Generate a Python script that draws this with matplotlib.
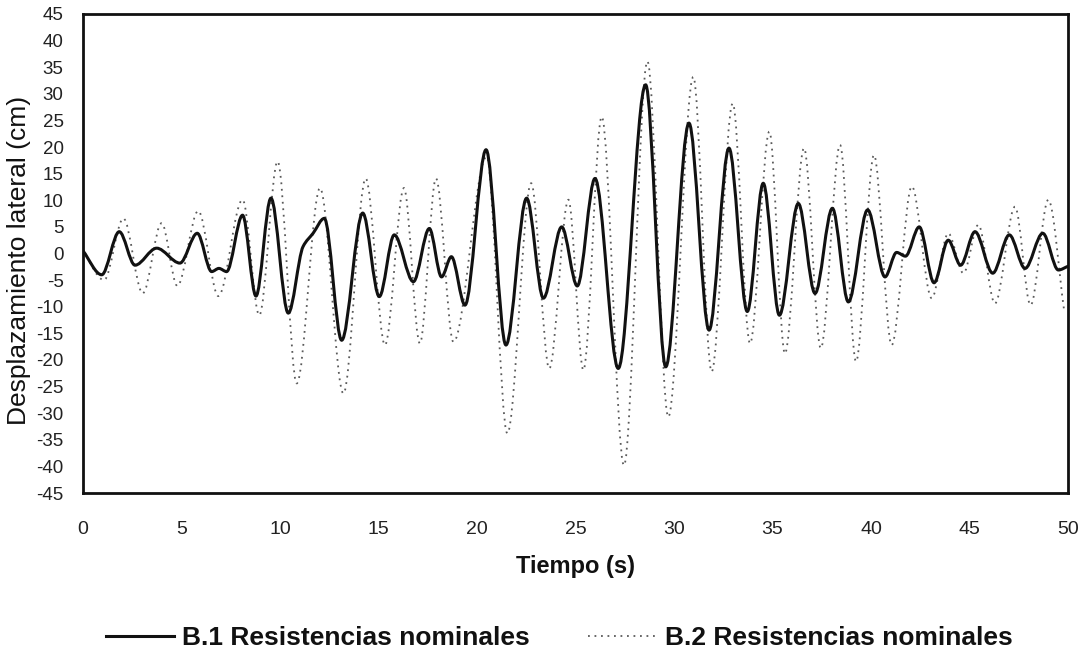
import numpy as np
import matplotlib
matplotlib.use("Agg")
import matplotlib.pyplot as plt
from matplotlib.path import Path
from matplotlib.patches import PathPatch
from matplotlib.lines import Line2D

plt.rcParams['font.family'] = ['Liberation Sans', 'DejaVu Sans']

# ---- data (turning points of each record) ----
b1_t = [0.0, 0.95, 1.84, 2.64, 3.74, 4.92, 5.8, 6.53, 6.9, 7.29, 8.1, 8.78, 9.54,
        10.42, 11.17, 11.68, 12.25, 13.13, 14.2, 15.04, 15.8, 16.77, 17.58, 18.2,
        18.7, 19.39, 20.46, 21.47, 22.52, 23.37, 24.3, 25.09, 25.99, 27.17, 28.56,
        29.58, 30.76, 31.78, 32.79, 33.72, 34.53, 35.35, 36.31, 37.16, 38.04, 38.85,
        39.83, 40.71, 41.3, 41.75, 42.45, 43.2, 43.92, 44.55, 45.28, 46.18, 47.02,
        47.82, 48.72, 49.51, 50.0]
b1_v = [0.5, -4.0, 4.1, -2.2, 1.0, -1.8, 3.8, -3.4, -2.8, -3.4, 7.2, -8.0, 10.4,
        -11.2, 1.3, 3.8, 6.6, -16.3, 7.6, -8.1, 3.5, -5.3, 4.7, -4.4,
        -0.6, -9.7, 19.5, -17.2, 10.4, -8.4, 5.0, -6.1, 14.1, -21.6, 31.7,
        -21.3, 24.5, -14.4, 19.8, -10.9, 13.2, -11.6, 9.4, -7.5, 8.5, -9.1,
        8.2, -4.4, 0.2, -0.5, 5.0, -5.5, 2.5, -2.2, 4.1, -3.7, 3.5,
        -2.8, 3.8, -3.1, -2.4]

b2_t = [0.0, 1.07, 2.05, 3.03, 3.99, 4.79, 5.85, 6.87, 8.1, 8.95, 9.88, 10.85,
        12.03, 13.22, 14.35, 15.33, 16.29, 17.1, 17.92, 18.8, 20.49, 21.54, 22.75,
        23.67, 24.64, 25.4, 26.33, 27.46, 28.65, 29.71, 30.98, 31.91, 32.98, 33.86,
        34.84, 35.63, 36.6, 37.45, 38.43, 39.24, 40.15, 41.05, 42.07, 43.08, 43.92,
        44.69, 45.45, 46.29, 47.31, 48.1, 49.0, 49.8]
b2_v = [0.5, -5.0, 6.6, -7.5, 5.7, -6.1, 8.0, -8.0, 10.1, -11.6, 17.3, -24.4,
        12.3, -26.3, 14.1, -17.2, 12.3, -16.9, 14.1, -16.6, 18.2, -33.8, 13.2,
        -21.6, 10.1, -21.9, 25.7, -39.8, 36.1, -30.7, 33.2, -22.2, 28.2, -16.9,
        22.9, -18.8, 19.8, -17.8, 20.4, -20.3, 18.5, -17.2, 12.6, -8.4, 3.8,
        -3.7, 5.4, -9.4, 8.8, -9.7, 10.1, -10.6]

x_ticks = [0, 5, 10, 15, 20, 25, 30, 35, 40, 45, 50]
y_ticks = [-45, -40, -35, -30, -25, -20, -15, -10, -5, 0, 5, 10, 15, 20, 25, 30, 35, 40, 45]

labels = ["B.1 Resistencias nominales", "B.2 Resistencias nominales"]


def smooth_path(t, v):
    """Monotone cubic (PCHIP) Bezier path through the read points."""
    t = np.asarray(t, float)
    v = np.asarray(v, float)
    h = np.diff(t)
    d = np.diff(v) / h
    m = np.zeros_like(v)
    for k in range(1, len(v) - 1):
        if d[k - 1] * d[k] > 0:
            w1 = 2 * h[k] + h[k - 1]
            w2 = h[k] + 2 * h[k - 1]
            m[k] = (w1 + w2) / (w1 / d[k - 1] + w2 / d[k])
    m[0] = d[0]
    m[-1] = d[-1]
    verts = [(t[0], v[0])]
    codes = [Path.MOVETO]
    for k in range(len(h)):
        verts += [(t[k] + h[k] / 3, v[k] + m[k] * h[k] / 3),
                  (t[k + 1] - h[k] / 3, v[k + 1] - m[k + 1] * h[k] / 3),
                  (t[k + 1], v[k + 1])]
        codes += [Path.CURVE4] * 3
    return Path(verts, codes)


fig = plt.figure(figsize=(10.81, 6.57), dpi=100)
ax = fig.add_axes([83 / 1081, 1 - 493 / 657, 985 / 1081, 479 / 657])

dot_style = (0, (1, 2.6))
ax.add_patch(PathPatch(smooth_path(b2_t, b2_v), fill=False, edgecolor='#5a5a5a',
                       lw=1.3, linestyle=dot_style))
ax.add_patch(PathPatch(smooth_path(b1_t, b1_v), fill=False, edgecolor='#111111',
                       lw=2.2, capstyle='round', joinstyle='round'))

ax.set_xlim(0, 50)
ax.set_ylim(-45, 45)
ax.set_xticks(x_ticks)
ax.set_yticks(y_ticks)
ax.set_xticklabels([str(x) for x in x_ticks])
ax.set_yticklabels([str(y) for y in y_ticks])
ax.tick_params(axis='x', length=0, pad=20, labelsize=14, colors='#222222')
ax.tick_params(axis='y', length=0, pad=14, labelsize=13.5, colors='#222222')
for s in ax.spines.values():
    s.set_linewidth(2.0)
    s.set_color('#111111')

fig.text(19 / 1081, 1 - 260 / 657, "Desplazamiento lateral (cm)", rotation=90,
         ha='center', va='center', fontsize=19, color='#111111')
fig.text(575 / 1081, 1 - 567 / 657, "Tiempo (s)", ha='center', va='center',
         fontsize=17, fontweight='bold', color='#111111')

handles = [Line2D([], [], color='#111111', lw=2.2),
           Line2D([], [], color='#5a5a5a', lw=1.3, linestyle=dot_style)]
leg = fig.legend(handles, labels, loc='center', bbox_to_anchor=(559 / 1081, 1 - 638 / 657),
                 ncol=2, frameon=False, handlelength=2.6, handletextpad=0.3,
                 columnspacing=2.2, prop={'size': 19, 'weight': 'bold'})
for txt in leg.get_texts():
    txt.set_color('#111111')

fig.savefig("out.png", dpi=100, facecolor='white')
